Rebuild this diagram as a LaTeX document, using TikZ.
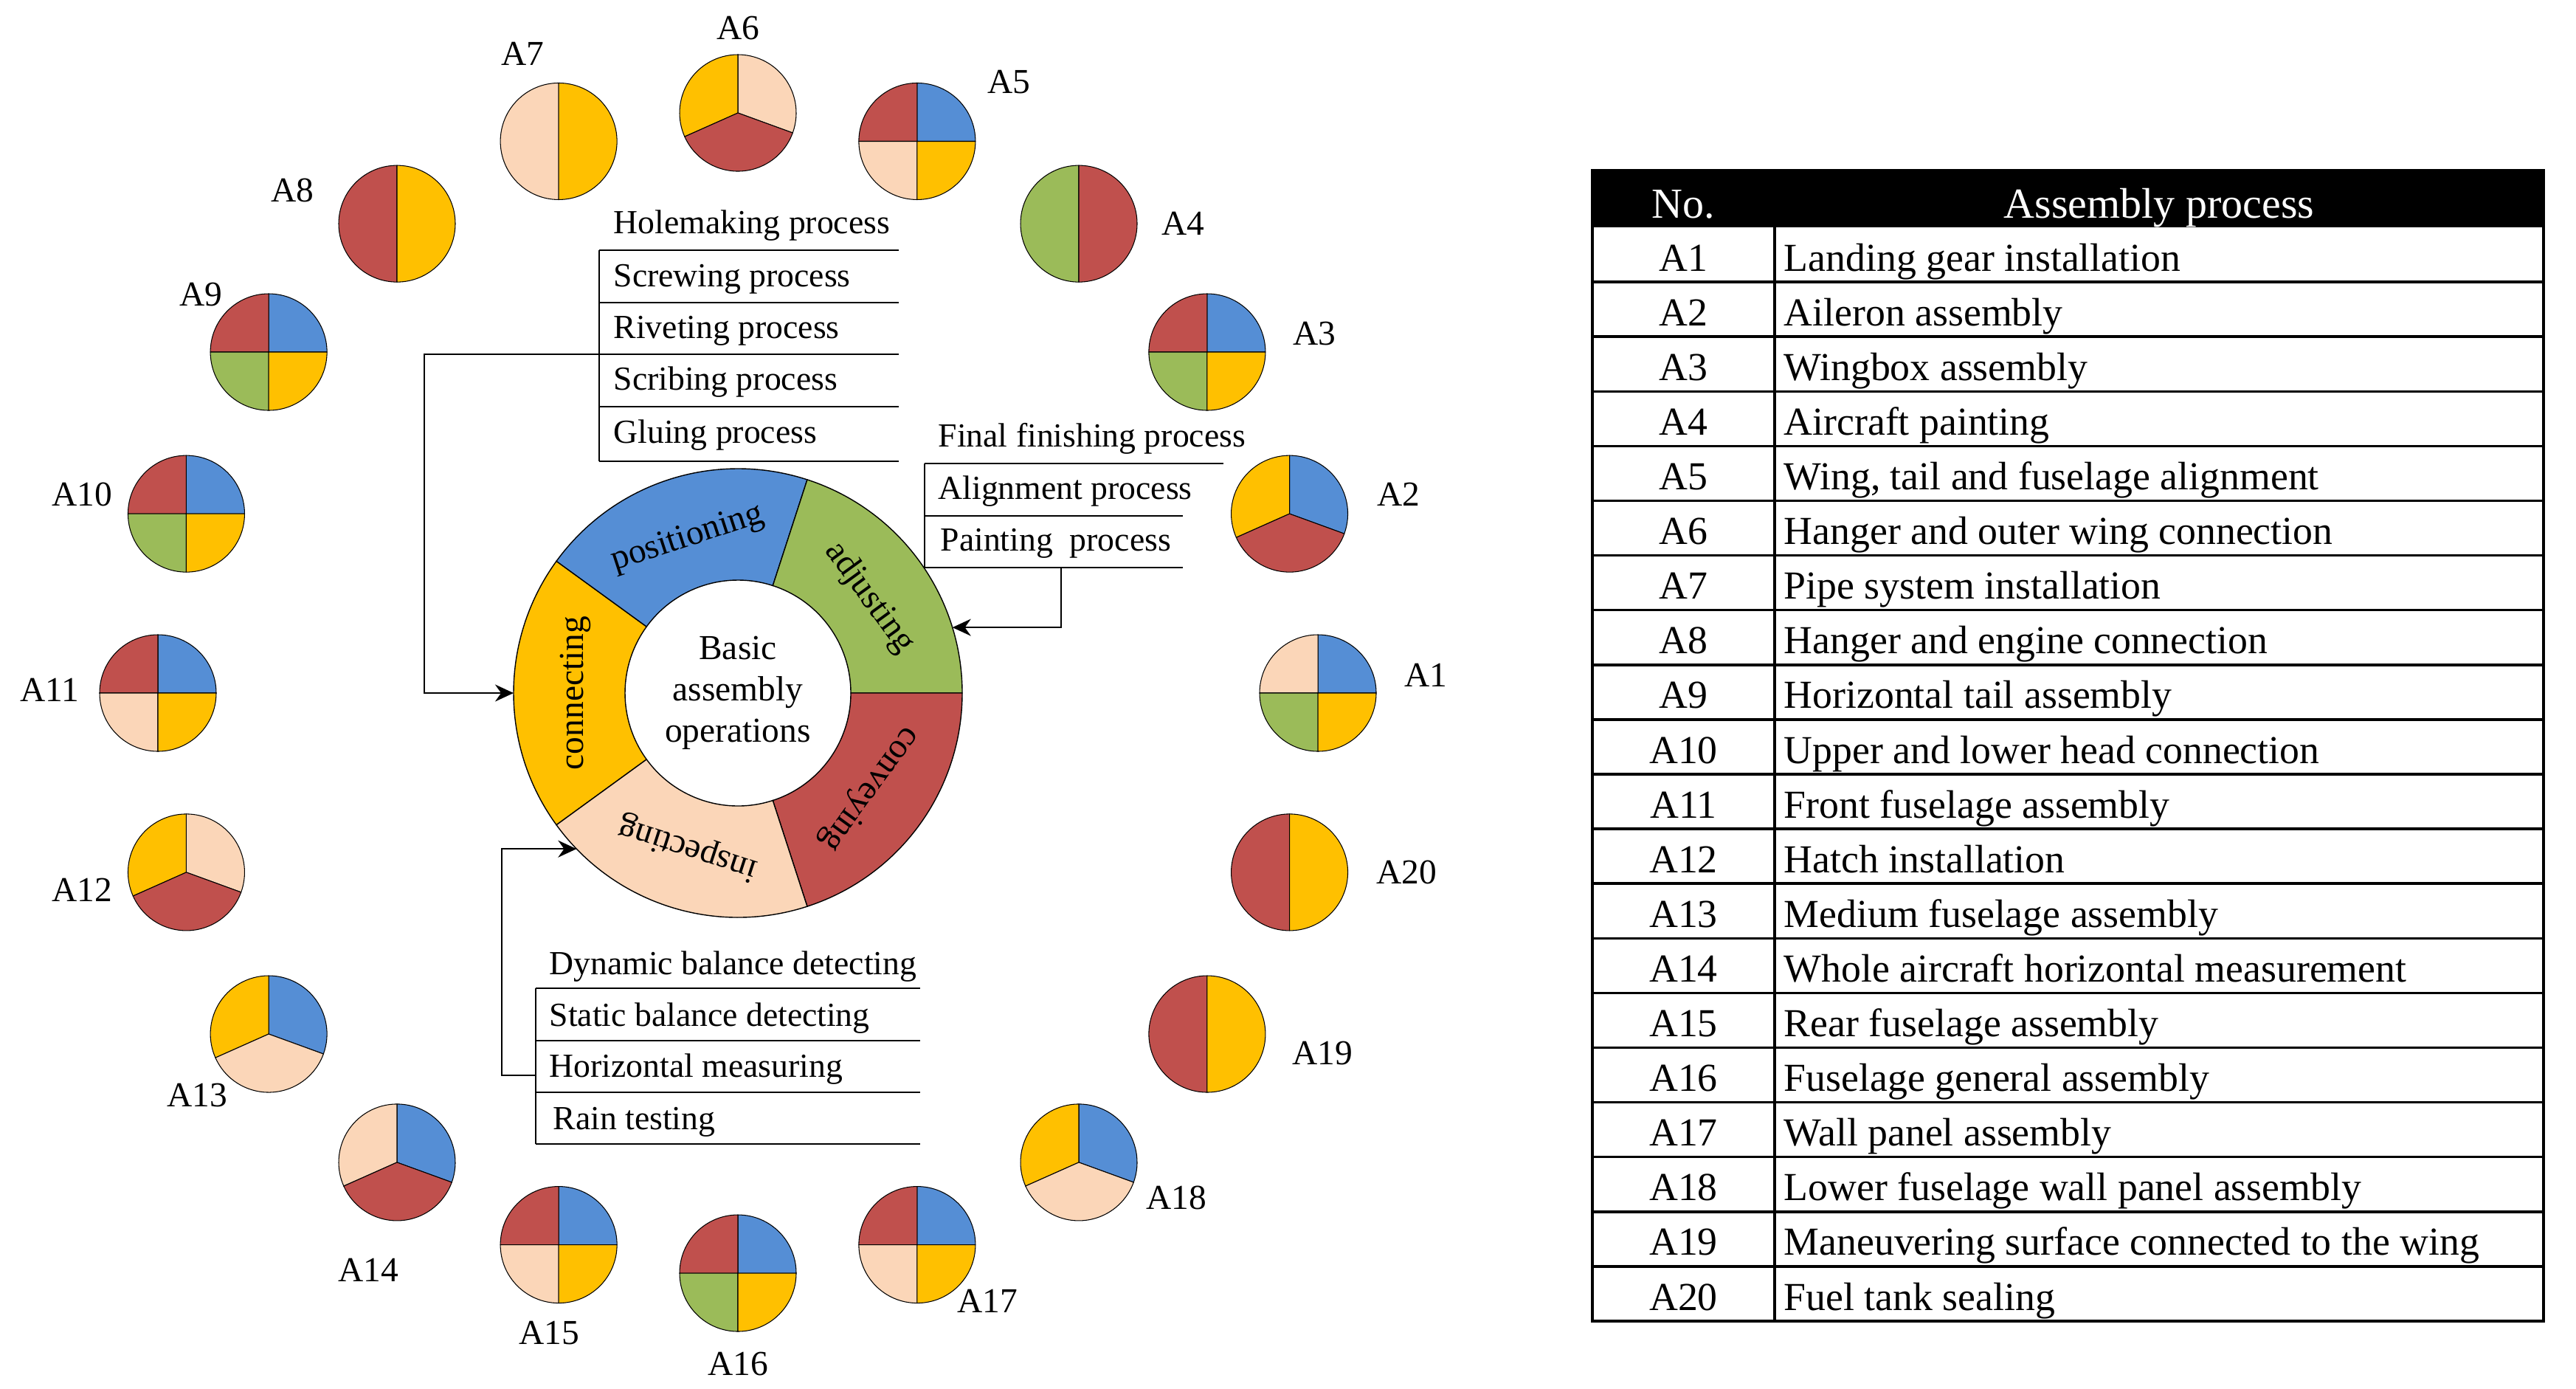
\documentclass[tikz,border=0pt]{standalone}
\usepackage{fontspec}
\setmainfont{Liberation Serif}
\usetikzlibrary{calc}
\usetikzlibrary{arrows.meta}

\definecolor{opblue}{HTML}{558ED5}
\definecolor{opgreen}{HTML}{9BBB59}
\definecolor{opred}{HTML}{C0504D}
\definecolor{opyellow}{HTML}{FFC000}
\definecolor{oppeach}{HTML}{FBD6B8}

\tikzset{
  listtext/.style={font=\fontsize{13}{15}\selectfont, anchor=base west, inner sep=0pt},
  listline/.style={line width=0.6pt},
  pielabel/.style={font=\fontsize{13.5}{16}\selectfont},
  ringtext/.style={font=\fontsize{13.5}{16}\selectfont, inner sep=0pt},
  tabtext/.style={font=\fontsize{15.3}{18}\selectfont, inner sep=0pt},
  tabhead/.style={font=\fontsize{16.5}{19}\selectfont, inner sep=0pt, text=white, anchor=base},
  tabline/.style={line width=1pt},
  feed/.style={line width=0.6pt, -{Stealth[length=2.5mm, width=2.3mm]}},
}

\begin{document}
\begin{tikzpicture}
  \useasboundingbox (0,0) rectangle (34.91,-18.81);
  \newcommand{\piechart}[2]
  {%
    \begin{scope}[shift={#1}]
      \foreach \pa/\pb/\pc in {#2}
        \filldraw[fill=\pc, line width=0.3pt] (0,0) -- (\pa:0.79) arc[start angle=\pa, end angle=\pb, radius=0.79] -- cycle;
    \end{scope}%
  }%
  \coordinate (ringC) at (10.00,-9.39);
  \begin{scope}[shift={(ringC)}]
    \foreach \sa/\sb/\col/\name in {144/216/opyellow/connecting, 72/144/opblue/positioning, 0/72/opgreen/adjusting, -72/0/opred/conveying, -144/-72/oppeach/inspecting}
    {
      \filldraw[fill=\col, line width=0.4pt] (\sa:3.04) arc[start angle=\sa, end angle=\sb, radius=3.04] -- (\sb:1.53) arc[start angle=\sb, end angle=\sa, radius=1.53] -- cycle;
      \pgfmathsetmacro{\midang}{(\sa+\sb)/2}
      \node[ringtext, rotate=\midang-90] (\name) at (\midang:2.2) {\name};
    }
    \node[ringtext, align=center, font=\fontsize{13.5}{15.9}\selectfont] (basic) at (0,0) {Basic\\assembly\\operations};

    \piechart{(0:7.86)}{0/90/opblue, 90/180/oppeach, 180/270/opgreen, 270/360/opyellow}
    \piechart{(18:7.86)}{-20/90/opblue, 90/204/opyellow, 204/340/opred}
    \piechart{(36:7.86)}{0/90/opblue, 90/180/opred, 180/270/opgreen, 270/360/opyellow}
    \piechart{(54:7.86)}{90/270/opgreen, -90/90/opred}
    \piechart{(72:7.86)}{0/90/opblue, 90/180/opred, 180/270/oppeach, 270/360/opyellow}
    \piechart{(90:7.86)}{-20/90/oppeach, 90/204/opyellow, 204/340/opred}
    \piechart{(108:7.86)}{90/270/oppeach, -90/90/opyellow}
    \piechart{(126:7.86)}{90/270/opred, -90/90/opyellow}
    \piechart{(144:7.86)}{0/90/opblue, 90/180/opred, 180/270/opgreen, 270/360/opyellow}
    \piechart{(162:7.86)}{0/90/opblue, 90/180/opred, 180/270/opgreen, 270/360/opyellow}
    \piechart{(180:7.86)}{0/90/opblue, 90/180/opred, 180/270/oppeach, 270/360/opyellow}
    \piechart{(198:7.86)}{-20/90/oppeach, 90/204/opyellow, 204/340/opred}
    \piechart{(216:7.86)}{-20/90/opblue, 90/204/opyellow, 204/340/oppeach}
    \piechart{(234:7.86)}{-20/90/opblue, 90/204/oppeach, 204/340/opred}
    \piechart{(252:7.86)}{0/90/opblue, 90/180/opred, 180/270/oppeach, 270/360/opyellow}
    \piechart{(270:7.86)}{0/90/opblue, 90/180/opred, 180/270/opgreen, 270/360/opyellow}
    \piechart{(288:7.86)}{0/90/opblue, 90/180/opred, 180/270/oppeach, 270/360/opyellow}
    \piechart{(306:7.86)}{-20/90/opblue, 90/204/opyellow, 204/340/oppeach}
    \piechart{(324:7.86)}{90/270/opred, -90/90/opyellow}
    \piechart{(342:7.86)}{90/270/opred, -90/90/opyellow}

    \foreach \lx/\ly [count=\i] in {9.32/0.24, 8.95/2.69, 7.81/4.87, 6.03/6.36, 3.67/8.28, 0/9.01, -2.92/8.66, -6.04/6.81, -7.28/5.40, -8.89/2.69, -9.33/0.04, -8.89/-2.67, -7.33/-5.45, -5.01/-7.82, -2.56/-8.67, 0/-9.09, 3.38/-8.24, 5.94/-6.84, 7.92/-4.88, 9.06/-2.43}
      \node[pielabel] (a\i) at (\lx,\ly) {A\i};

    \coordinate (connin) at (180:3.04);
    \coordinate (adjin) at (17:3.04);
    \coordinate (inspin) at (224:3.04);
  \end{scope}

  % connecting
  \node[listtext] (hole) at (8.31,-3.16) {Holemaking process};
  \node[listtext] (screw) at (8.31,-3.88) {Screwing process};
  \node[listtext] (rivet) at (8.31,-4.58) {Riveting process};
  \node[listtext] (scribe) at (8.31,-5.28) {Scribing process};
  \node[listtext] (glue) at (8.31,-6.00) {Gluing process};
  \foreach \y in {-3.39,-4.10,-4.80,-5.51,-6.25}
    \draw[listline] (8.12,\y) -- (12.18,\y);
  \draw[listline] (8.12,-3.39) -- (8.12,-6.25);
  \coordinate (holeout) at (8.12,-4.80);
  \draw[feed] (holeout) -- ++(-2.37,0) |- (connin);

  % adjusting
  \node[listtext] (finish) at (12.71,-6.05) {Final finishing process};
  \node[listtext] (align) at (12.71,-6.76) {Alignment process};
  \node[listtext] (paint) at (12.74,-7.46) {Painting~~process};
  \draw[listline] (12.53,-6.28) -- (16.58,-6.28);
  \foreach \y in {-6.99,-7.69}
    \draw[listline] (12.53,\y) -- (16.03,\y);
  \draw[listline] (12.53,-6.28) -- (12.53,-7.69);
  \coordinate (paintout) at (14.38,-7.69);
  \draw[feed] (paintout) |- (adjin);

  % inspecting
  \node[listtext] (dyn) at (7.44,-13.20) {Dynamic balance detecting};
  \node[listtext] (stat) at (7.44,-13.90) {Static balance detecting};
  \node[listtext] (horiz) at (7.44,-14.59) {Horizontal measuring};
  \node[listtext] (rain) at (7.49,-15.30) {Rain testing};
  \foreach \y in {-13.39,-14.10,-14.80,-15.50}
    \draw[listline] (7.26,\y) -- (12.47,\y);
  \draw[listline] (7.26,-13.39) -- (7.26,-15.50);
  \coordinate (horizout) at (7.26,-14.57);
  \draw[feed] (horizout) -- ++(-0.46,0) |- (inspin);

  % table
  \fill[black] (21.58,-2.31) rectangle (34.47,-3.08);
  \node[tabhead] (nohead) at (22.815,-2.95) {No.};
  \node[tabhead] (aphead) at (29.26,-2.95) {Assembly process};
  \foreach \txt [count=\i] in {Landing gear installation, Aileron assembly, Wingbox assembly, Aircraft painting, {Wing, tail and fuselage alignment}, Hanger and outer wing connection, Pipe system installation, Hanger and engine connection, Horizontal tail assembly, Upper and lower head connection, Front fuselage assembly, Hatch installation, Medium fuselage assembly, Whole aircraft horizontal measurement, Rear fuselage assembly, Fuselage general assembly, Wall panel assembly, Lower fuselage wall panel assembly, Maneuvering surface connected to the wing, Fuel tank sealing}
  {
    \node[tabtext, anchor=base] (no\i) at (22.815,{-3.08-\i*0.741+0.15}) {A\i};
    \node[tabtext, anchor=base west] (ap\i) at (24.17,{-3.08-\i*0.741+0.15}) {\txt};
    \draw[tabline] (21.58,{-3.08-\i*0.741}) -- (34.47,{-3.08-\i*0.741});
  }
  \draw[tabline] (21.58,-2.31) rectangle (34.47,-17.90);
  \draw[tabline] (24.05,-3.08) -- (24.05,-17.90);
\end{tikzpicture}
\end{document}
